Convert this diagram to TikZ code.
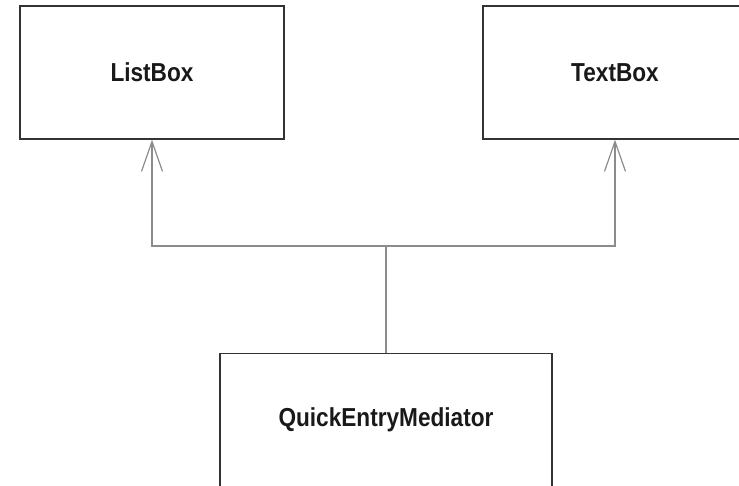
\documentclass[tikz,border=0pt]{standalone}
\usepackage{fontspec}
\newfontfamily\classfont[FakeStretch=0.87]{Liberation Sans}
\usetikzlibrary{arrows.meta}
\begin{document}
\begin{tikzpicture}[x=1pt,y=-1pt,
  classbox/.style={draw=black!80, line width=1.2pt, minimum width=264pt,
    minimum height=133pt, inner sep=0pt,
    font=\classfont\bfseries\fontsize{26}{30}\selectfont, text=black!90},
  link/.style={draw=black!45, line width=1.3pt},
  inherit/.style={link, -{Straight Barb[length=30pt,width=21pt,line width=1.2pt]}}]
  \useasboundingbox (0,0) rectangle (739,485);
  \clip (0,0) rectangle (739,485);
  % superclasses
  \node[classbox] (list) at (152,72.5) {ListBox};
  \node[classbox] (text) at (615,72.5) {TextBox};
  % mediator
  \node[classbox, minimum width=332pt] (med) at (386,420) {QuickEntryMediator};
  % junction of the connectors
  \coordinate (j) at (med.north |- 0,246);
  \draw[link] (med.north) -- (j);
  \draw[inherit] (j) -| (list.south);
  \draw[inherit] (j) -| (text.south);
\end{tikzpicture}
\end{document}
